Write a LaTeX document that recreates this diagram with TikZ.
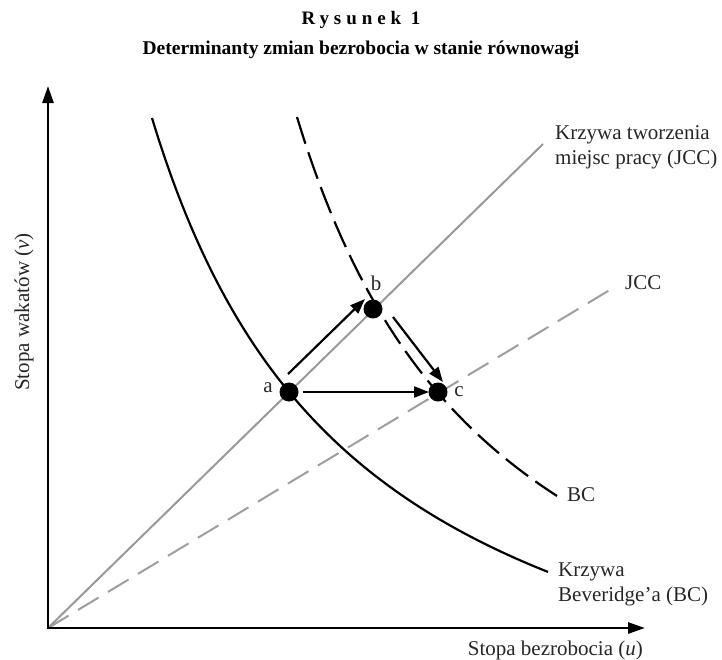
\documentclass[tikz,border=0pt]{standalone}
\usepackage{fontspec}
\setmainfont{Liberation Serif}
\usetikzlibrary{arrows.meta}
\begin{document}
\begin{tikzpicture}[x=1pt,y=-1pt,
  axis/.style={line width=2.6pt,black,-{Triangle[length=17pt,width=11pt]}},
  bccurve/.style={line width=2.2pt,black},
  bcdashed/.style={line width=2.2pt,black,dash pattern=on 28pt off 9pt},
  jccline/.style={line width=2pt,black!40},
  jccdashed/.style={line width=2pt,black!38,dash pattern=on 24pt off 11pt},
  dot/.style={circle,fill=black,minimum size=19pt,inner sep=0pt},
  movearrow/.style={line width=2.2pt,black,-{Triangle[length=15pt,width=11pt]}},
  lbl/.style={font=\fontsize{21}{25}\selectfont,inner sep=0pt,text=black!85},
  ttl/.style={font=\fontsize{19}{21}\selectfont\bfseries,inner sep=0pt}]
\useasboundingbox (0,0) rectangle (722,659);

% titles
\node[ttl] (t1) at (361,20) {\addfontfeatures{LetterSpace=26}Rysunek 1};
\node[ttl,font=\fontsize{19.5}{22}\selectfont\bfseries] (t2) at (361,50) {Determinanty zmian bezrobocia w stanie równowagi};

% axes
\coordinate (O) at (48,628);
\coordinate (ytip) at (48,86);
\coordinate (xtip) at (645,628);
\coordinate (jccend) at (543,144);
\coordinate (jcctwoend) at (613,288);

% JCC lines
\draw[jccline] (O) -- (jccend);
\draw[jccdashed] (O) -- (jcctwoend);

% BC curves
\draw[bccurve] plot[domain=152:548,samples=80,smooth] (\x,{813.7-1467.23/((\x+58.9)/100)});
\draw[bcdashed] plot[domain=297:557,samples=80,smooth] (\x,{796.5-1401.13/((\x-90.8)/100)});

\draw[axis] ([shift={(0,1.3)}]O) -- (ytip);
\draw[axis] ([shift={(-1.3,0)}]O) -- (xtip);

% points
\node[dot] (a) at (289,392) {};
\node[dot] (b) at (373,309) {};
\node[dot] (c) at (438,392) {};

% movement arrows
\draw[movearrow] ([shift={(-1,-18)}]a.center) -- ([shift={(-8,-10)}]b.center);
\draw[movearrow] ([shift={(14,0)}]a.center) -- ([shift={(-9,0)}]c.center);
\draw[movearrow] ([shift={(20,8)}]b.center) -- ([shift={(5,-10)}]c.center);

% point labels
\node[lbl] (la) at (268,388) {a};
\node[lbl] (lb) at (376,283) {b};
\node[lbl] (lc) at (459,392) {c};

% curve labels
\node[lbl,anchor=west,align=left] (ljcc) at (555,147) {Krzywa tworzenia\\miejsc pracy (JCC)};
\node[lbl,anchor=west] (ljcctwo) at (625,283) {JCC};
\node[lbl,anchor=west] (lbctwo) at (567,495) {BC};
\node[lbl,anchor=west,align=left] (lbc) at (558,584) {Krzywa\\Beveridge’a (BC)};

% axis labels
\node[lbl,anchor=east] (lx) at (643,650) {Stopa bezrobocia (\textit{u})};
\node[lbl,rotate=90] (ly) at (24,312) {Stopa wakatów (\textit{v})};
\end{tikzpicture}
\end{document}
